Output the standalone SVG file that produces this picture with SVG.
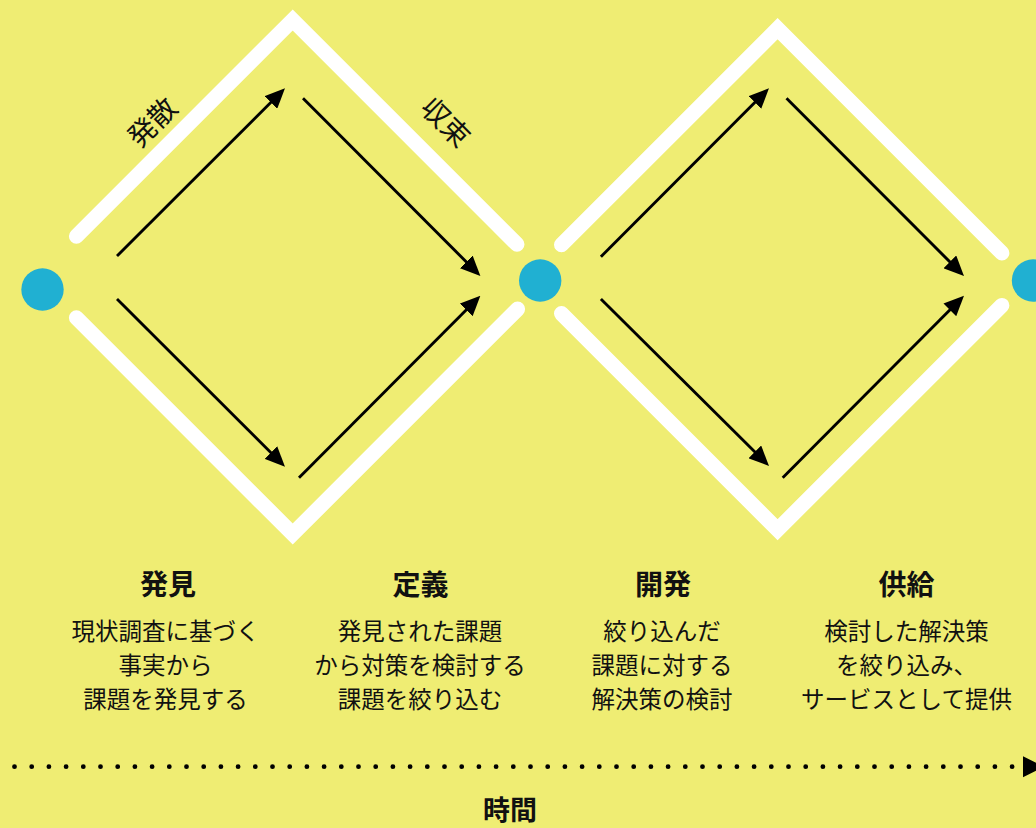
<svg xmlns="http://www.w3.org/2000/svg" width="1036" height="828" viewBox="0 0 1036 828">
<defs>
<style>
.bg{fill:#EFED73}
.band{fill:none;stroke:#FFFFFF;stroke-width:15;stroke-linejoin:miter;stroke-linecap:round}
.node{fill:#20B0D2}
.arr{stroke:#000;stroke-width:2.9;fill:none;marker-end:url(#ah)}
text{font-family:"Noto Sans CJK JP","Noto Sans",sans-serif;fill:#111;text-anchor:middle;dominant-baseline:central}
.ttl{font-size:28px;font-weight:700}
.body{font-size:23.5px}
.side{font-size:28px}
</style>
<marker id="ah" markerUnits="userSpaceOnUse" markerWidth="20" markerHeight="18" refX="8" refY="9" orient="auto">
<path d="M0,0 L20,9 L0,18 Z" fill="#000"/>
</marker>
</defs>
<rect class="bg" x="0" y="0" width="1036" height="828"/>

<g id="diamond-left">
<path class="band" d="M76.4,236.3 L292.7,20 L517,244.3"/>
<path class="band" d="M76.4,317.7 L292.7,534 L517.6,309.1"/>
</g>
<g id="diamond-right">
<path class="band" d="M561.5,244.8 L777.6,28.7 L1001.9,253"/>
<path class="band" d="M561.5,313.6 L777.6,529.7 L1001.9,305.4"/>
</g>

<g id="node-start"><circle class="node" cx="42.5" cy="289.5" r="21.2"/></g>
<g id="node-mid"><circle class="node" cx="540.2" cy="280.5" r="21.2"/></g>
<g id="node-end"><circle class="node" cx="1033" cy="280.5" r="21.2"/></g>

<g id="connectors">
<line class="arr" x1="117" y1="256" x2="276.5" y2="96.8"/>
<line class="arr" x1="303" y1="98.3" x2="471.9" y2="267.5"/>
<line class="arr" x1="117" y1="299" x2="276.5" y2="458.2"/>
<line class="arr" x1="299" y1="477.7" x2="471.9" y2="304.2"/>
<line class="arr" x1="600.9" y1="256.7" x2="760.5" y2="96.8"/>
<line class="arr" x1="786.5" y1="98.3" x2="955.5" y2="267.5"/>
<line class="arr" x1="600.9" y1="299" x2="760.5" y2="457.5"/>
<line class="arr" x1="782.7" y1="477.7" x2="955.5" y2="304.2"/>
</g>

<g id="label-diverge"><text class="side" transform="translate(151,121) rotate(-45)">発散</text></g>
<g id="label-converge"><text class="side" transform="translate(447,121) rotate(45)">収束</text></g>

<g id="phase-discover">
<text class="ttl" x="168" y="582.5">発見</text>
<text class="body" x="165.5" y="629.5">現状調査に基づく</text>
<text class="body" x="165.5" y="663.5">事実から</text>
<text class="body" x="165.5" y="697.5">課題を発見する</text>
</g>
<g id="phase-define">
<text class="ttl" x="420.5" y="582.5">定義</text>
<text class="body" x="420" y="629.5">発見された課題</text>
<text class="body" x="420" y="663.5">から対策を検討する</text>
<text class="body" x="420" y="697.5">課題を絞り込む</text>
</g>
<g id="phase-develop">
<text class="ttl" x="663" y="582.5">開発</text>
<text class="body" x="662" y="629.5">絞り込んだ</text>
<text class="body" x="662" y="663.5">課題に対する</text>
<text class="body" x="662" y="697.5">解決策の検討</text>
</g>
<g id="phase-deliver">
<text class="ttl" x="906.5" y="582.5">供給</text>
<text class="body" x="906.5" y="629.5">検討した解決策</text>
<text class="body" x="906.5" y="663.5">を絞り込み、</text>
<text class="body" x="906.5" y="697.5">サービスとして提供</text>
</g>

<g id="timeline">
<line x1="14.5" y1="766.7" x2="1018" y2="766.7" stroke="#000" stroke-width="4.8" stroke-linecap="round" stroke-dasharray="0 17.2"/>
<polygon points="1023,756.3 1023,777.2 1044,766.7" fill="#000"/>
<text class="ttl" x="510" y="808.5" style="font-size:27px">時間</text>
</g>
</svg>
